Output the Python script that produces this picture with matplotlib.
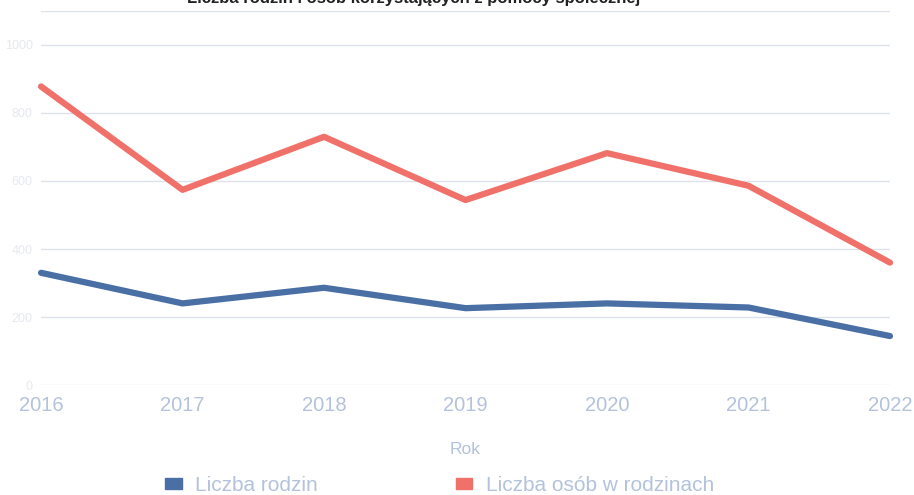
import matplotlib.pyplot as plt
import matplotlib.patches as patches

plt.rcParams['font.family'] = ['Liberation Sans', 'DejaVu Sans']

years = [2016, 2017, 2018, 2019, 2020, 2021, 2022]
rodziny = [330, 240, 286, 226, 240, 228, 144]
osoby = [878, 574, 730, 544, 682, 586, 360]

y_ticks = [0, 200, 400, 600, 800, 1000, 1100]
y_labels = ['0', '200', '400', '600', '800', '1000', '']
x_labels = ['2016', '2017', '2018', '2019', '2020', '2021', '2022']

title = 'Liczba rodzin i osób korzystających z pomocy społecznej'
series_names = ['Liczba rodzin', 'Liczba osób w rodzinach']

BLUE = '#4a6fa5'
RED = '#f0716a'
TICK = '#b4c2dc'
GRID = '#dde2ea'

fig = plt.figure(figsize=(9.14, 4.95), dpi=100)
ax = fig.add_axes([0.0449, 0.2222, 0.9288, 0.7556])

ax.plot(years, rodziny, color=BLUE, lw=4.5, solid_capstyle='round',
        solid_joinstyle='round', clip_on=False, zorder=3)
ax.plot(years, osoby, color=RED, lw=4.5, solid_capstyle='round',
        solid_joinstyle='round', clip_on=False, zorder=3)

ax.set_xlim(2016, 2022)
ax.set_ylim(0, 1100)
ax.set_xticks(years)
ax.set_xticklabels(x_labels)
ax.set_yticks(y_ticks)
ax.set_yticklabels(y_labels)

ax.grid(axis='y', color=GRID, lw=1)
ax.grid(axis='x', visible=False)
for s in ax.spines.values():
    s.set_visible(False)
ax.tick_params(axis='x', length=0, colors=TICK, labelsize=14.5, pad=8)
ax.tick_params(axis='y', length=0, colors='#e6e9ef', labelsize=9, pad=6)

ax.set_xlabel('Rok', color=TICK, fontsize=12.5, labelpad=19)

# title sits half off the top edge, as in the source image
fig.text(0.452, 1 - 3 / 495, title, ha='center', va='baseline',
         fontsize=12, fontweight='bold', color='#222222')

handles = [patches.Rectangle((0, 0), 1, 1, color=BLUE),
           patches.Rectangle((0, 0), 1, 1, color=RED)]
leg = fig.legend(handles, series_names, loc='center',
                 bbox_to_anchor=(0.481, 0.019), ncol=2, frameon=False,
                 fontsize=15, handlelength=0.8, handleheight=0.45,
                 handletextpad=0.65, columnspacing=6.6, borderpad=0.1)
for t in leg.get_texts():
    t.set_color(TICK)

fig.savefig('out.png', dpi=100)
